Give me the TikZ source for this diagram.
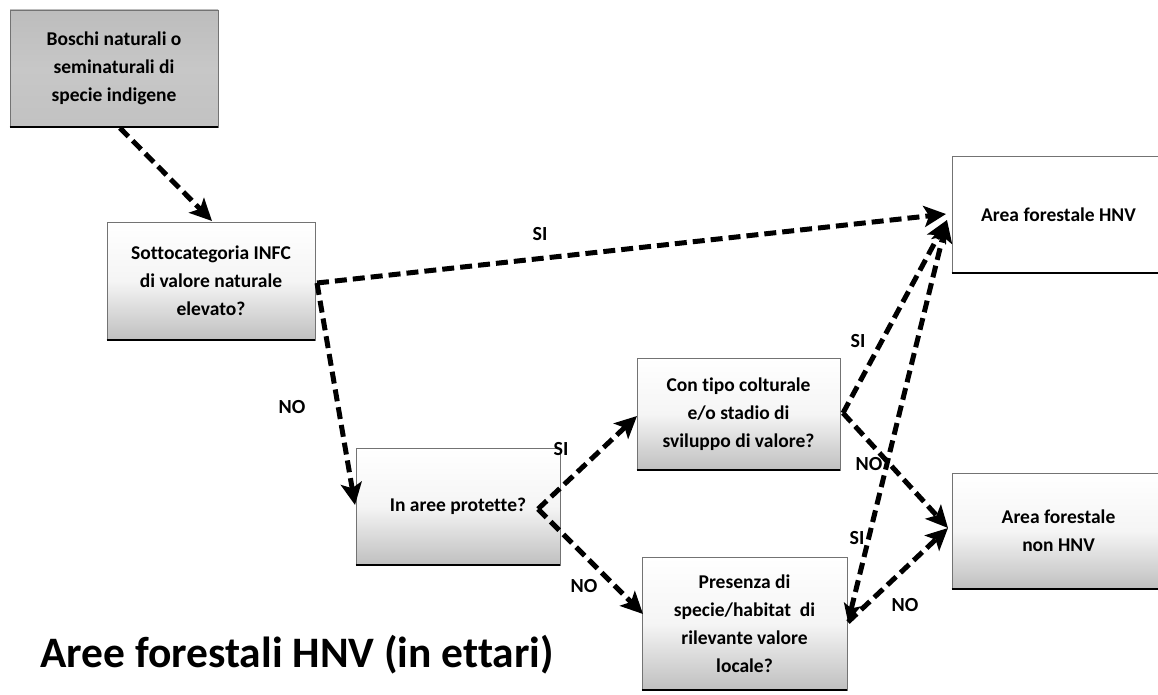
\documentclass[tikz,border=0pt]{standalone}
\usepackage{fontspec}
\setmainfont{Carlito}[Ligatures=NoCommon]
\usetikzlibrary{arrows.meta,shadings}
\begin{document}
\begin{tikzpicture}[x=1pt,y=-1pt,
  box/.style={draw=black!55,line width=0.6pt,inner sep=2pt,align=center,
    font=\fontsize{19.5}{28}\selectfont\bfseries,
    top color=white,bottom color=black!25,middle color=black!4},
  darkbox/.style={box,top color=black!26,bottom color=black!24,middle color=black!22},
  whitebox/.style={box,fill=white,top color=white,bottom color=white,middle color=white},
  shadowline/.style={black,line width=2pt},
  conn/.style={black,line width=5pt,dash pattern=on 12pt off 6pt,
    -{Stealth[length=22pt,width=21pt,inset=5pt]}},
  conn2/.style={conn,{Stealth[length=18pt,width=17pt,inset=4pt]}-{Stealth[length=22pt,width=21pt,inset=5pt]}},
  lab/.style={font=\fontsize{20}{22}\selectfont\bfseries,inner sep=1pt},
  ttl/.style={font=\fontsize{43.5}{48}\selectfont\bfseries,inner sep=0pt}]
\useasboundingbox (0,0) rectangle (1158,695);
\fill[white] (0,0) rectangle (1158,695);

\node[darkbox,minimum width=208pt,minimum height=117pt] (b1) at (114,68.5)
  {Boschi naturali o\\seminaturali di\\specie indigene};
\node[box,minimum width=208pt,minimum height=118pt] (b2) at (211,281)
  {Sottocategoria INFC\\di valore naturale\\elevato?};
\node[box,minimum width=204pt,minimum height=117pt] (b3) at (458,506.5)
  {In aree protette?};
\node[box,minimum width=203pt,minimum height=112pt] (b4) at (738.5,414)
  {Con tipo colturale\\e/o stadio di\\sviluppo di valore?};
\node[box,minimum width=205pt,minimum height=133pt] (b5) at (744.5,623.5)
  {Presenza di\\specie/habitat\ \ di\\rilevante valore\\locale?};
\node[whitebox,minimum width=213pt,minimum height=117pt] (b6) at (1058.5,214.5)
  {Area forestale HNV};
\node[box,minimum width=213pt,minimum height=116pt] (b7) at (1058.5,531)
  {Area forestale\\non HNV};

\foreach \n in {b1,b2,b3,b4,b5,b6,b7}{
  \draw[shadowline] (\n.south west) -- (\n.south east);
}

% connector anchor coordinates
\coordinate (c1) at (120,128);
\coordinate (c1e) at (212,221);
\coordinate (c2) at (317,283);
\coordinate (c3) at (538,509);
\coordinate (c4) at (843,413);
\coordinate (c5) at (848,622);
\coordinate (h6) at (946,214);
\coordinate (h6b) at (947,220);
\coordinate (h7) at (948,528);
\coordinate (t3) at (355,505);
\coordinate (t4) at (637,416);
\coordinate (t5) at (643,614);

\draw[conn] (c1) -- (c1e);
\draw[conn] (c2) -- (h6);
\draw[conn] (c2) -- (t3);
\draw[conn] (c3) -- (t4);
\draw[conn] (c3) -- (t5);
\draw[conn] (c4) -- (h6b);
\draw[conn] (c4) -- (h7);
\draw[conn2] (c5) -- (h6b);
\draw[conn] (c5) -- (h7);

\node[lab] (l1) at (540,234) {SI};
\node[lab] (l2) at (292,407) {NO};
\node[lab] (l3) at (561,449) {SI};
\node[lab] (l4) at (584,586) {NO};
\node[lab] (l5) at (858,341) {SI};
\node[lab] (l6) at (869,464) {NO};
\node[lab] (l7) at (857,538) {SI};
\node[lab] (l8) at (905,605) {NO};

\node[ttl,anchor=base west] (title) at (40,667) {Aree forestali HNV (in ettari)};
\end{tikzpicture}
\end{document}
